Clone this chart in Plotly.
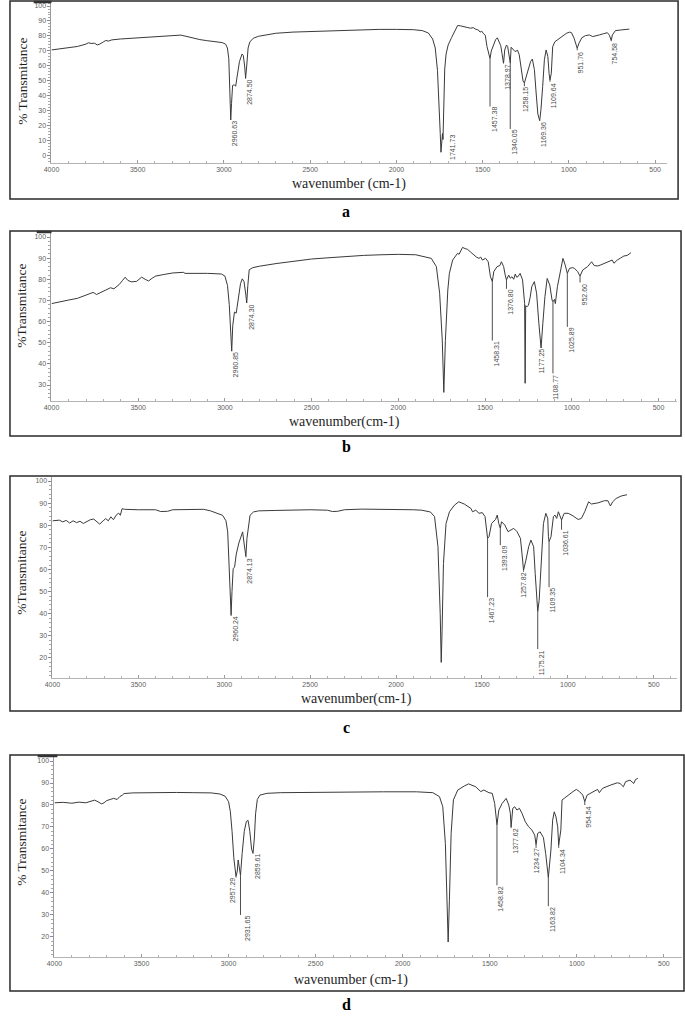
import plotly.graph_objects as go

# ---------------- DATA ----------------
# Panel a spectrum (wavenumber cm-1, %T)
wn_a = [
    4000, 3950, 3900, 3850, 3800, 3785, 3770, 3750, 3735, 3720,
    3700, 3685, 3670, 3650, 3600, 3500, 3400, 3300, 3250, 3220,
    3180, 3140, 3100, 3050, 3010, 2990, 2980, 2972, 2966, 2960.63,
    2956, 2950, 2940, 2932, 2925, 2910, 2895, 2888, 2880, 2874.5,
    2868, 2860, 2850, 2830, 2800, 2750, 2700, 2600, 2500, 2400,
    2300, 2200, 2100, 2000, 1900, 1850, 1815, 1790, 1775, 1762,
    1752, 1746, 1741.73, 1737, 1733, 1730, 1726, 1720, 1712, 1700,
    1680, 1660, 1645, 1630, 1610, 1590, 1570, 1555, 1540, 1525,
    1515, 1505, 1495, 1485, 1475, 1466, 1457.38, 1450, 1440, 1425,
    1415, 1405, 1395, 1388, 1378.97, 1372, 1362, 1355, 1348, 1340.05,
    1335, 1325, 1312, 1298, 1288, 1276, 1266, 1258.15, 1248, 1235,
    1222, 1212, 1200, 1190, 1180, 1169.36, 1162, 1152, 1142, 1132,
    1122, 1115, 1109.64, 1102, 1094, 1081, 1065, 1052, 1030, 1014,
    995, 985, 970, 960, 951.76, 942, 925, 905, 881, 862,
    840, 824, 800, 777, 765, 754.58, 748, 730, 700, 672,
    650]
t_a = [
    70.7, 71.5, 72.0, 73.0, 74.6, 75.5, 75.0, 75.2, 74.0, 74.6,
    76.0, 77.0, 76.6, 77.4, 78.0, 78.7, 79.2, 79.9, 80.6, 79.8,
    78.6, 77.6, 76.9, 76.3, 75.6, 74.5, 72.0, 65.0, 45.0, 24.0,
    35.0, 47.0, 47.5, 46.5, 52.0, 63.0, 68.0, 67.0, 60.0, 52.0,
    60.0, 72.0, 76.0, 78.5, 79.8, 81.0, 81.8, 82.6, 83.0, 83.5,
    83.8, 84.1, 84.4, 84.4, 84.2, 83.6, 82.0, 78.0, 72.0, 57.0,
    35.0, 15.0, 2.5, 8.0, 15.0, 11.0, 35.0, 58.0, 68.0, 74.0,
    79.0, 84.0, 87.0, 86.8, 86.5, 85.7, 85.2, 85.6, 84.5, 84.0,
    82.6, 83.2, 81.5, 80.5, 73.0, 68.0, 65.0, 70.0, 73.0, 77.5,
    78.8, 76.2, 73.5, 68.4, 61.8, 70.7, 74.0, 73.0, 68.0, 62.0,
    72.5, 71.0, 69.6, 70.5, 67.5, 58.0, 50.0, 48.7, 53.0, 58.5,
    63.0, 64.6, 57.6, 42.0, 28.0, 23.5, 30.9, 46.4, 64.2, 70.7,
    66.3, 55.0, 50.7, 55.1, 72.9, 76.2, 77.5, 78.4, 80.5, 81.8,
    82.6, 82.2, 78.5, 74.0, 71.8, 75.1, 78.8, 80.2, 80.7, 79.6,
    80.5, 80.7, 81.5, 82.2, 80.5, 77.0, 80.7, 83.6, 84.0, 84.4,
    84.6]

# Panel b spectrum
wn_b = [
    4000, 3950, 3900, 3850, 3800, 3760, 3740, 3700, 3660, 3640,
    3610, 3590, 3575, 3560, 3540, 3510, 3480, 3460, 3440, 3420,
    3400, 3350, 3300, 3240, 3230, 3100, 3020, 3000, 2985, 2975,
    2968, 2960.85, 2955, 2945, 2935, 2925, 2910, 2900, 2890, 2880,
    2874.3, 2868, 2860, 2840, 2800, 2700, 2600, 2500, 2400, 2300,
    2200, 2100, 2000, 1900, 1810, 1781, 1762, 1747, 1738, 1729,
    1715, 1706, 1687, 1670, 1659, 1650, 1640, 1630, 1615, 1602,
    1585, 1564, 1550, 1535, 1525, 1516, 1505, 1497, 1482, 1469,
    1458.31, 1450, 1431, 1415, 1406, 1393, 1384, 1376.8, 1364, 1355,
    1345, 1335, 1326, 1318, 1311, 1298, 1284, 1272, 1269, 1266,
    1258, 1250, 1240, 1231, 1216, 1203, 1190, 1177.25, 1167, 1155,
    1142, 1127, 1114, 1108.77, 1100, 1095, 1083, 1066, 1051, 1038,
    1025.89, 1013, 995, 985, 966, 952.6, 937, 909, 886, 871,
    850, 833, 815, 795, 767, 757, 738, 720, 700, 680,
    659]
t_b = [
    68.5, 69.5, 70.2, 71.0, 72.5, 73.8, 72.8, 74.5, 76.0, 75.5,
    77.5, 79.5, 81.0, 79.5, 78.8, 79.0, 81.0, 80.0, 79.2, 80.5,
    81.5, 82.3, 83.0, 83.3, 82.8, 82.8, 82.5, 81.5, 77.0, 68.0,
    58.0, 46.0, 58.0, 64.5, 64.0, 70.0, 78.0, 80.2, 79.0, 73.0,
    68.8, 77.0, 84.5, 85.5, 86.2, 87.5, 88.6, 89.6, 90.2, 90.9,
    91.3, 91.6, 91.8, 91.6, 89.9, 86.0, 73.4, 51.3, 26.5, 51.0,
    74.9, 82.8, 89.1, 91.0, 92.3, 91.8, 93.5, 95.1, 94.5, 94.2,
    93.0, 91.5, 90.5, 89.9, 90.5, 89.1, 89.5, 89.9, 88.3, 81.2,
    78.9, 83.6, 86.0, 86.5, 88.3, 86.0, 82.0, 79.7, 82.0, 80.5,
    81.2, 80.0, 82.5, 81.0, 81.2, 82.8, 79.7, 68.5, 30.8, 67.5,
    67.0, 67.8, 71.5, 76.5, 78.9, 73.4, 59.2, 47.5, 59.2, 71.8,
    80.4, 77.3, 70.2, 69.4, 70.5, 68.5, 76.5, 84.4, 89.9, 86.7,
    82.8, 85.2, 85.5, 85.2, 83.6, 81.5, 84.4, 86.0, 88.3, 86.5,
    86.3, 86.8, 87.5, 88.3, 89.1, 87.6, 89.1, 90.0, 91.0, 91.3,
    92.6]

# Panel c spectrum
wn_c = [
    4000, 3960, 3940, 3920, 3900, 3880, 3860, 3840, 3820, 3800,
    3780, 3760, 3740, 3725, 3705, 3690, 3675, 3660, 3645, 3630,
    3615, 3605, 3595, 3580, 3500, 3400, 3370, 3330, 3300, 3200,
    3120, 3080, 3040, 3010, 2990, 2980, 2972, 2965, 2960.24, 2955,
    2948, 2940, 2930, 2915, 2900, 2893, 2885, 2880, 2874.13, 2868,
    2860, 2850, 2830, 2800, 2700, 2600, 2500, 2400, 2370, 2340,
    2300, 2200, 2100, 2000, 1900, 1850, 1800, 1776, 1756, 1743,
    1737, 1732, 1724, 1709, 1689, 1660, 1635, 1603, 1564, 1555,
    1536, 1517, 1498, 1482, 1473, 1467.23, 1459, 1444, 1421, 1411,
    1402, 1393.09, 1386, 1367, 1348, 1328, 1315, 1296, 1276, 1267,
    1257.82, 1244, 1228, 1215, 1199, 1190, 1184, 1175.21, 1167, 1155,
    1142, 1128, 1117, 1113, 1109.35, 1098, 1084, 1075, 1065, 1055,
    1046, 1036.61, 1021, 998, 969, 940, 921, 902, 879, 863,
    825, 787, 767, 752, 739, 719, 690, 656]
t_c = [
    82.0, 82.3, 81.5, 82.2, 81.0, 82.0, 81.2, 81.8, 80.8, 81.6,
    82.5, 82.8, 81.5, 80.5, 82.0, 83.0, 82.0, 83.8, 82.5, 84.5,
    85.5, 84.5, 87.5, 87.2, 87.0, 87.0, 86.2, 86.3, 87.0, 87.2,
    87.2, 86.5, 85.5, 84.5, 82.0, 77.0, 62.0, 48.0, 39.5, 50.0,
    60.5, 61.0, 67.0, 72.0, 76.0, 77.0, 72.0, 68.0, 66.0, 74.0,
    80.0, 84.5, 86.0, 86.5, 86.7, 86.9, 87.0, 86.8, 86.2, 86.3,
    87.0, 87.3, 87.3, 87.3, 87.0, 86.8, 86.0, 83.9, 70.3, 40.1,
    18.0, 32.5, 62.7, 80.8, 86.1, 89.1, 90.6, 89.6, 87.6, 86.1,
    86.8, 85.4, 85.7, 83.9, 76.3, 74.1, 74.8, 80.8, 82.6, 84.6,
    80.8, 78.6, 81.6, 80.1, 77.1, 77.8, 78.6, 77.1, 74.1, 67.3,
    59.7, 64.2, 70.3, 73.3, 70.3, 58.2, 49.1, 41.0, 46.0, 62.7,
    80.8, 85.4, 83.1, 74.8, 72.6, 74.8, 83.9, 84.6, 83.1, 86.1,
    83.9, 82.4, 85.4, 85.4, 84.2, 82.6, 83.1, 86.1, 90.6, 89.6,
    90.1, 91.1, 91.1, 88.7, 90.6, 92.1, 93.2, 93.8]

# Panel d spectrum
wn_d = [
    4000, 3950, 3900, 3860, 3820, 3790, 3770, 3750, 3730, 3715,
    3700, 3680, 3660, 3640, 3625, 3610, 3600, 3550, 3500, 3400,
    3300, 3200, 3100, 3050, 3020, 3000, 2990, 2980, 2970, 2957.29,
    2950, 2945, 2940, 2931.65, 2922, 2910, 2898, 2888, 2878, 2868,
    2859.61, 2852, 2845, 2835, 2820, 2780, 2700, 2600, 2500, 2400,
    2300, 2200, 2110, 1921, 1827, 1789, 1770, 1755, 1745, 1739,
    1732, 1722, 1709, 1684, 1647, 1622, 1581, 1552, 1534, 1505,
    1486, 1472, 1458.82, 1448, 1429, 1406, 1391, 1382, 1377.62, 1368,
    1357, 1344, 1330, 1315, 1296, 1277, 1258, 1242, 1234.27, 1225,
    1211, 1192, 1179, 1170, 1163.82, 1149, 1139, 1130, 1120, 1110,
    1104.34, 1092, 1085, 1073, 1060, 1041, 1022, 1003, 985, 966,
    954.54, 941, 909, 881, 871, 852, 805, 767, 752, 733,
    720, 695, 673, 663, 650]
t_d = [
    81.0, 81.2, 80.8, 81.3, 81.0, 81.8, 82.2, 81.5, 80.5, 81.0,
    82.0, 82.5, 83.0, 82.5, 83.8, 84.5, 85.2, 85.5, 85.6, 85.7,
    85.7, 85.6, 85.5, 85.0, 84.0, 81.5, 77.0, 68.0, 56.0, 47.5,
    50.0, 55.0, 52.0, 48.0, 58.0, 68.0, 72.5, 73.0, 68.0, 60.0,
    58.0, 65.0, 76.0, 82.5, 84.5, 85.3, 85.6, 85.7, 85.9, 85.9,
    86.0, 86.0, 86.0, 86.0, 85.6, 83.8, 79.2, 62.5, 36.7, 17.7,
    36.7, 67.1, 82.3, 86.8, 88.6, 89.6, 88.3, 86.1, 86.8, 85.6,
    85.3, 80.7, 71.0, 77.7, 80.7, 83.0, 80.0, 76.2, 70.0, 78.5,
    79.2, 77.7, 78.5, 76.2, 72.4, 70.1, 68.6, 66.3, 62.0, 67.1,
    67.8, 65.2, 57.9, 49.0, 47.0, 59.5, 73.1, 76.9, 74.6, 70.1,
    61.7, 68.6, 82.3, 83.0, 83.8, 85.3, 86.1, 87.1, 86.1, 84.5,
    81.5, 84.5, 86.1, 87.1, 85.6, 87.6, 89.1, 90.1, 89.8, 88.3,
    90.6, 91.3, 89.8, 91.6, 92.1]

# Labelled peaks: wavenumber, %T at the peak, %T where the label starts
pk_a_w = [2960.63, 2874.50, 1741.73, 1457.38, 1378.97, 1340.05, 1258.15, 1169.36, 1109.64, 951.76, 754.58]
pk_a_t = [24.0, 52.0, 2.5, 65.0, 61.8, 62.0, 48.7, 23.5, 50.7, 71.8, 77.0]
pk_a_l = [24.0, 51.5, 15.0, 33.0, 61.5, 18.0, 46.5, 23.5, 49.5, 70.5, 76.5]

pk_b_w = [2960.85, 2874.30, 1458.31, 1376.80, 1177.25, 1108.77, 1025.89, 952.60]
pk_b_t = [46.0, 68.8, 78.9, 79.7, 47.5, 69.4, 82.8, 81.5]
pk_b_l = [46.0, 68.5, 51.0, 75.5, 47.5, 35.5, 57.5, 78.5]

pk_c_w = [2960.24, 2874.13, 1467.23, 1393.09, 1257.82, 1175.21, 1109.35, 1036.61]
pk_c_t = [39.5, 66.0, 74.1, 78.6, 59.7, 41.0, 72.6, 82.4]
pk_c_l = [39.0, 65.5, 47.5, 71.0, 59.0, 24.0, 52.0, 78.0]

pk_d_w = [2957.29, 2931.65, 2859.61, 1458.82, 1377.62, 1234.27, 1163.82, 1104.34, 954.54]
pk_d_t = [47.5, 48.0, 58.0, 71.0, 70.0, 62.0, 47.0, 61.7, 81.5]
pk_d_l = [47.0, 30.0, 58.0, 43.5, 69.5, 60.5, 34.0, 60.5, 80.0]

panel_letters = ["a", "b", "c", "d"]
x_titles = ["wavenumber (cm-1)", "wavenumber(cm-1)", "wavenumber(cm-1)", "wavenumber (cm-1)"]
y_titles = ["% Transmitance", "%Transmitance", "%Transmitance", "% Transmitance"]

# ---------------- LAYOUT / STYLE ----------------
W, H = 685, 1019
LINE = "#3a3a3a"
TICKC = "#5e5e5e"

# pixel geometry of each panel
geom = [
    dict(px=(44, 667), py=(1, 163), xr=(4000, 430), yr=(-4.67, 103.33),
         box=(2, 678, 1, 199), xt=(345, 184), yt=(15, 81), lt=(342, 212), bar=(26, 44),
         shifts=[4, 4, 12, 5, 4, 4, 1, 4, 3, 3, 3]),
    dict(px=(44, 677), py=(232, 401), xr=(4000, 393), yr=(22.43, 102.37),
         box=(2, 681, 231, 436), xt=(340, 422), yt=(13, 306), lt=(342, 447), bar=(29, 44),
         shifts=[4, 4, 4, 4, 0, 3, 4, 4]),
    dict(px=(45, 677), py=(477, 678), xr=(4000, 364), yr=(10.95, 101.81),
         box=(2, 681, 476, 711), xt=(353, 699), yt=(13, 573), lt=(343, 727), bar=None,
         shifts=[4, 4, 4, 4, 0, 4, 4, 4]),
    dict(px=(47, 682), py=(757, 957), xr=(4000, 396), yr=(10.89, 101.82),
         box=(2, 684, 755, 991), xt=(347, 980), yt=(13, 842), lt=(343, 1004), bar=(30, 50),
         shifts=[-4, 7, 5, 4, 4, 0, 4, 4, 4]),
]

spectra = [(wn_a, t_a), (wn_b, t_b), (wn_c, t_c), (wn_d, t_d)]
peaks = [(pk_a_w, pk_a_t, pk_a_l), (pk_b_w, pk_b_t, pk_b_l),
         (pk_c_w, pk_c_t, pk_c_l), (pk_d_w, pk_d_t, pk_d_l)]

fig = go.Figure()
annotations = []
shapes = []
layout_axes = {}

for i, g in enumerate(geom):
    n = "" if i == 0 else str(i + 1)
    xa, ya = "x" + n, "y" + n
    wn, tt = spectra[i]
    fig.add_trace(go.Scatter(x=wn, y=tt, xaxis=xa, yaxis=ya, mode="lines",
                             line=dict(color=LINE, width=1), hoverinfo="skip"))
    pw, pt, pl = peaks[i]
    lx, ly = [], []
    for w, a, b in zip(pw, pt, pl):
        if b < a - 0.3:
            lx += [w, w, None]
            ly += [a, b, None]
    if lx:
        fig.add_trace(go.Scatter(x=lx, y=ly, xaxis=xa, yaxis=ya, mode="lines",
                                 line=dict(color=LINE, width=0.9), hoverinfo="skip"))
    for w, b, s in zip(pw, pl, g["shifts"]):
        annotations.append(dict(x=w, y=b, xref=xa, yref=ya, text=f"{w:.2f}",
                                textangle=-90, showarrow=False, xanchor="center",
                                yanchor="top", xshift=s, borderpad=0,
                                font=dict(family="Liberation Sans", size=7, color="#4a4a4a")))

    layout_axes["xaxis" + n] = dict(
        domain=[g["px"][0] / W, g["px"][1] / W], range=list(g["xr"]), anchor=ya,
        showline=True, linecolor="#b4b4b4", linewidth=1, showgrid=False, zeroline=False,
        ticks="inside", ticklen=3, tickcolor="#9a9a9a", tick0=0, dtick=500,
        tickfont=dict(family="Liberation Sans", size=7, color=TICKC),
        minor=dict(dtick=100, ticks="inside", ticklen=2, tickcolor="#b0b0b0", showgrid=False),
        fixedrange=True)
    layout_axes["yaxis" + n] = dict(
        domain=[1 - g["py"][1] / H, 1 - g["py"][0] / H], range=list(g["yr"]), anchor=xa,
        showline=True, linecolor="#9a9a9a", linewidth=1, showgrid=False, zeroline=False,
        ticks="outside", ticklen=3, tickcolor="#8a8a8a", tick0=0, dtick=10,
        tickfont=dict(family="Liberation Sans", size=7, color=TICKC),
        minor=dict(dtick=2, ticks="outside", ticklen=2, tickcolor="#a8a8a8", showgrid=False),
        fixedrange=True)

    bx0, bx1, by0, by1 = g["box"]
    shapes.append(dict(type="rect", xref="paper", yref="paper",
                       x0=bx0 / W, x1=bx1 / W, y0=1 - by1 / H, y1=1 - by0 / H,
                       line=dict(color="#2a2a2a", width=1.5), fillcolor="rgba(0,0,0,0)"))
    if g["bar"]:
        shapes.append(dict(type="line", xref="paper", yref="paper",
                           x0=g["bar"][0] / W, x1=g["bar"][1] / W,
                           y0=1 - (by0 + 1) / H, y1=1 - (by0 + 1) / H,
                           line=dict(color="#333333", width=2.5)))

    annotations.append(dict(x=g["xt"][0] / W, y=1 - g["xt"][1] / H, xref="paper", yref="paper",
                            text=x_titles[i], showarrow=False, xanchor="center", yanchor="middle",
                            font=dict(family="Liberation Serif", size=14, color="#1e1e1e")))
    annotations.append(dict(x=g["yt"][0] / W, y=1 - g["yt"][1] / H, xref="paper", yref="paper",
                            text=y_titles[i], textangle=-90, showarrow=False,
                            xanchor="center", yanchor="middle",
                            font=dict(family="Liberation Serif", size=13.5, color="#1e1e1e")))
    annotations.append(dict(x=g["lt"][0] / W, y=1 - g["lt"][1] / H, xref="paper", yref="paper",
                            text="<b>" + panel_letters[i] + "</b>", showarrow=False,
                            xanchor="center", yanchor="middle",
                            font=dict(family="Liberation Serif", size=16, color="#000000")))

fig.update_layout(width=W, height=H, margin=dict(l=0, r=0, t=0, b=0),
                  paper_bgcolor="white", plot_bgcolor="white", showlegend=False,
                  annotations=annotations, shapes=shapes, **layout_axes)

fig.write_html("out.html", config={"displayModeBar": False},
               post_script="document.body.style.margin='0';document.body.style.overflow='hidden';")
